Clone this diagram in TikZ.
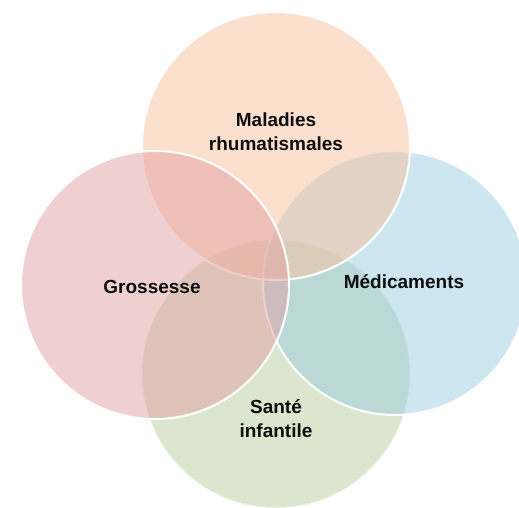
\documentclass[tikz,border=0pt]{standalone}
\usepackage{fontspec}
\setmainfont{Liberation Sans}
\definecolor{corange}{RGB}{249,193,157}
\definecolor{cpink}{RGB}{226,160,164}
\definecolor{cblue}{RGB}{155,205,225}
\definecolor{cgreen}{RGB}{181,205,155}
\begin{document}
\begin{tikzpicture}[x=1pt,y=-1pt,
  venn/.style={circle, minimum size=268pt, inner sep=0pt, draw=white, line width=2pt, fill opacity=0.5, draw opacity=1},
  lbl/.style={font=\fontsize{19}{24}\selectfont\bfseries, align=center, text=black!95}]
\useasboundingbox (0,0) rectangle (519,508);
\clip (0,0) rectangle (519,508);
\node[venn, fill=cgreen, draw opacity=0.35] (green) at (276,374) {};
\node[venn, fill=cblue, minimum size=264pt] (blue) at (395,283) {};
\node[venn, fill=corange] (orange) at (276,146) {};
\node[venn, fill=cpink] (pink) at (155,285) {};
\node[lbl] (t1) at (276,132) {Maladies\\rhumatismales};
\node[lbl] (t2) at (152,287) {Grossesse};
\node[lbl] (t3) at (404,282) {Médicaments};
\node[lbl] (t4) at (276,419) {Santé\\infantile};
\end{tikzpicture}
\end{document}
